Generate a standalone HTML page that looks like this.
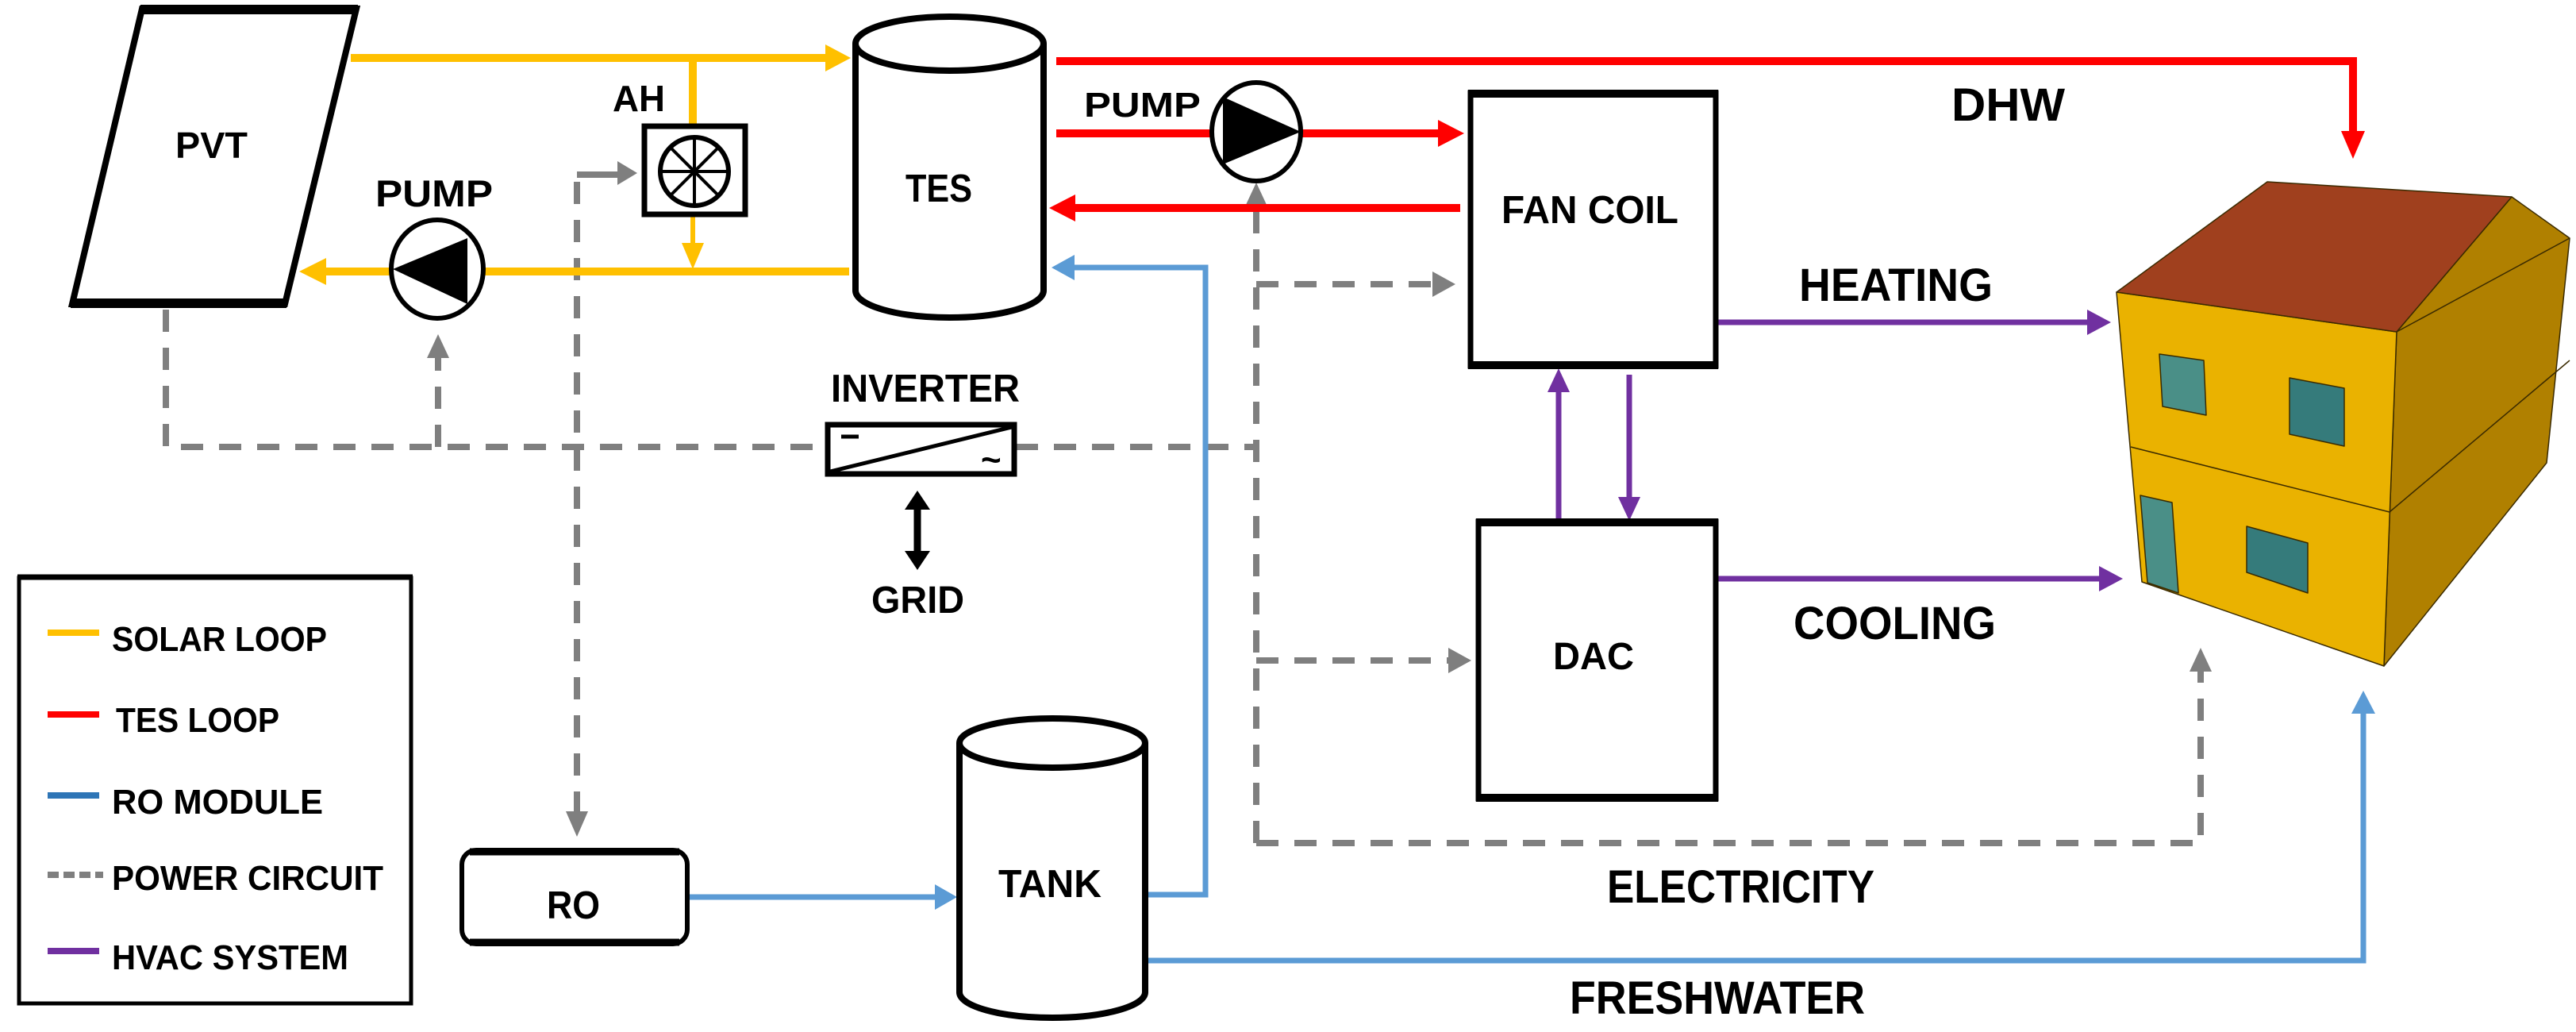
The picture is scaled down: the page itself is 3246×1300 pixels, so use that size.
<!DOCTYPE html>
<html><head><meta charset="utf-8"><style>html,body{margin:0;padding:0;background:#fff}svg{display:block}text{font-family:"Liberation Sans",sans-serif;font-weight:bold;fill:#000}</style></head>
<body>
<svg width="3246" height="1300" viewBox="0 0 3246 1300" xmlns="http://www.w3.org/2000/svg">

<!-- grey power dashes -->
<g stroke="#7F7F7F" stroke-width="8" fill="none" stroke-dasharray="28,20">
<path d="M209,390 V563 H1040"/>
<path d="M1280,563 H1583"/>
<path d="M552,563 V450"/>
<path d="M727,1025 V226"/>
<path d="M727,220 H782" stroke-dasharray="none"/>
<path d="M1583,1062 V258"/>
<path d="M1583,358 H1805"/>
<path d="M1583,832 H1825"/>
<path d="M1583,1062 H2773 V845"/>
</g>
<g fill="#7F7F7F">
<polygon points="552,421 538,451 566,451"/>
<polygon points="803,218 778,203 778,233"/>
<polygon points="1583,230 1569,260 1597,260"/>
<polygon points="1834,358 1805,342 1805,374"/>
<polygon points="1854,832 1825,816 1825,848"/>
<polygon points="2773,816 2759,846 2787,846"/>
<polygon points="727,1054 713,1022 741,1022"/>
</g>

<!-- yellow solar loop -->
<g stroke="#FFC000" stroke-width="10" fill="none">
<path d="M442,73 H1042"/>
<path d="M873,73 V159"/>
<path d="M873,270 V310" stroke-width="6"/>
<path d="M1070,342 H408"/>
</g>
<g fill="#FFC000">
<polygon points="1072,73 1040,56 1040,90"/>
<polygon points="873,339 859,306 887,306"/>
<polygon points="377,342 411,325 411,359"/>
</g>

<!-- red TES loop -->
<g stroke="#FF0000" stroke-width="10" fill="none">
<path d="M1331,77 H2965 V168"/>
<path d="M1331,168 H1815"/>
<path d="M1840,262 H1352"/>
</g>
<g fill="#FF0000">
<polygon points="2965,200 2950,165 2980,165"/>
<polygon points="1845,168 1812,151 1812,185"/>
<polygon points="1322,262 1355,245 1355,279"/>
</g>

<!-- blue -->
<g stroke="#5B9BD5" stroke-width="7" fill="none">
<path d="M868,1130 H1180"/>
<path d="M1443,1127 H1519 V337 H1352"/>
<path d="M1443,1210 H2978 V897"/>
</g>
<g fill="#5B9BD5">
<polygon points="1206,1130 1178,1114 1178,1146"/>
<polygon points="1325,337 1354,321 1354,353"/>
<polygon points="2978,870 2963,899 2993,899"/>
</g>

<!-- purple -->
<g stroke="#7030A0" stroke-width="7" fill="none">
<path d="M1964,654 V492"/>
<path d="M2053,472 V627"/>
<path d="M2165,406 H2630"/>
<path d="M2165,729 H2645"/>
</g>
<g fill="#7030A0">
<polygon points="1964,464 1950,494 1978,494"/>
<polygon points="2053,656 2039,626 2067,626"/>
<polygon points="2660,406 2630,390 2630,422"/>
<polygon points="2675,729 2645,713 2645,745"/>
</g>

<!-- PVT -->
<polygon points="179,11 449,11 359,383 91,383" fill="#fff" stroke="#000" stroke-width="8"/>
<line x1="177" y1="12" x2="451" y2="12" stroke="#000" stroke-width="12"/>
<line x1="89" y1="382" x2="361" y2="382" stroke="#000" stroke-width="12"/>

<!-- Pump 1 -->
<ellipse cx="551" cy="339" rx="58" ry="62" fill="#fff" stroke="#000" stroke-width="6"/>
<polygon points="495,339 589,300 589,383" fill="#000"/>

<!-- AH -->
<rect x="812" y="159" width="127" height="111" fill="#fff" stroke="#000" stroke-width="7"/>
<circle cx="875" cy="216" r="43" fill="none" stroke="#000" stroke-width="6"/>
<g stroke="#000" stroke-width="4">
<line x1="832" y1="216" x2="918" y2="216"/>
<line x1="875" y1="173" x2="875" y2="259"/>
<line x1="845" y1="186" x2="905" y2="246"/>
<line x1="905" y1="186" x2="845" y2="246"/>
</g>

<!-- TES cylinder -->
<path d="M1078,55 V366 A118.5,34 0 0 0 1315,366 V55" fill="#fff" stroke="#000" stroke-width="8"/>
<ellipse cx="1196.5" cy="55" rx="118.5" ry="34" fill="#fff" stroke="#000" stroke-width="8"/>

<!-- Pump 2 -->
<ellipse cx="1583" cy="166" rx="56" ry="62" fill="#fff" stroke="#000" stroke-width="6"/>
<polygon points="1639,166 1541,122 1541,207" fill="#000"/>

<!-- Fan coil -->
<rect x="1853" y="117" width="309" height="344" fill="#fff" stroke="#000" stroke-width="7"/>
<line x1="1850" y1="118" x2="2165" y2="118" stroke="#000" stroke-width="10"/>
<line x1="1850" y1="460" x2="2165" y2="460" stroke="#000" stroke-width="10"/>

<!-- DAC -->
<rect x="1863" y="657" width="299" height="349" fill="#fff" stroke="#000" stroke-width="7"/>
<line x1="1860" y1="658" x2="2165" y2="658" stroke="#000" stroke-width="10"/>
<line x1="1860" y1="1005" x2="2165" y2="1005" stroke="#000" stroke-width="10"/>

<!-- Inverter -->
<rect x="1043" y="535" width="235" height="62" fill="#fff" stroke="#000" stroke-width="7"/>
<line x1="1046" y1="594" x2="1275" y2="538" stroke="#000" stroke-width="5"/>
<line x1="1060" y1="550" x2="1082" y2="550" stroke="#000" stroke-width="5"/>
<text x="1236" y="594" font-size="44">~</text>

<!-- Grid arrow -->
<line x1="1156" y1="640" x2="1156" y2="698" stroke="#000" stroke-width="9"/>
<polygon points="1156,618 1140,642 1172,642" fill="#000"/>
<polygon points="1156,718 1140,694 1172,694" fill="#000"/>

<!-- RO -->
<rect x="582" y="1071" width="284" height="118" rx="18" fill="#fff" stroke="#000" stroke-width="6"/>
<line x1="592" y1="1073" x2="856" y2="1073" stroke="#000" stroke-width="9"/>
<line x1="592" y1="1187" x2="856" y2="1187" stroke="#000" stroke-width="9"/>

<!-- Tank -->
<path d="M1209,936 V1250 A117,32 0 0 0 1443,1250 V936" fill="#fff" stroke="#000" stroke-width="8"/>
<ellipse cx="1326" cy="936" rx="117" ry="31" fill="#fff" stroke="#000" stroke-width="8"/>

<!-- House -->
<g stroke="#3a2a00" stroke-width="1.5" stroke-linejoin="round">
<polygon points="3020,418 3165,248 3238,300 3209,583 3004,839" fill="#B08000"/>
<polygon points="2667,368 3020,418 3004,839 2699,733" fill="#EAB200"/>
<polygon points="2667,368 2857,229 3165,248 3020,418" fill="#A0401E"/>
<line x1="3020" y1="418" x2="3238" y2="300"/>
<line x1="2685" y1="563" x2="3011" y2="645"/>
<line x1="3011" y1="645" x2="3238" y2="454"/>
<polygon points="2721,446 2777,454 2780,523 2725,512" fill="#4A8F87"/>
<polygon points="2885,476 2954,489 2954,562 2885,547" fill="#357B7B"/>
<polygon points="2697,624 2737,633 2745,747 2706,734" fill="#4A8F87"/>
<polygon points="2831,663 2908,684 2908,747 2831,721" fill="#357B7B"/>
</g>

<!-- Legend -->
<rect x="24" y="728" width="494" height="536" fill="#fff" stroke="#000" stroke-width="5"/>
<line x1="22" y1="727" x2="520" y2="727" stroke="#000" stroke-width="7"/>
<line x1="60" y1="797" x2="125" y2="797" stroke="#FFC000" stroke-width="8"/>
<line x1="60" y1="900" x2="125" y2="900" stroke="#FF0000" stroke-width="8"/>
<line x1="60" y1="1002" x2="125" y2="1002" stroke="#2E75B6" stroke-width="8"/>
<line x1="60" y1="1102" x2="130" y2="1102" stroke="#7F7F7F" stroke-width="8" stroke-dasharray="14,6"/>
<line x1="60" y1="1198" x2="125" y2="1198" stroke="#7030A0" stroke-width="8"/>
<g font-size="44">
<text x="141" y="820" textLength="271" lengthAdjust="spacingAndGlyphs">SOLAR LOOP</text>
<text x="146" y="922" textLength="206" lengthAdjust="spacingAndGlyphs">TES LOOP</text>
<text x="141" y="1025" textLength="266" lengthAdjust="spacingAndGlyphs">RO MODULE</text>
<text x="141" y="1121" textLength="342" lengthAdjust="spacingAndGlyphs">POWER CIRCUIT</text>
<text x="141" y="1221" textLength="298" lengthAdjust="spacingAndGlyphs">HVAC SYSTEM</text>
</g>

<!-- Labels -->
<text x="221" y="199" font-size="46" textLength="91" lengthAdjust="spacingAndGlyphs">PVT</text>
<text x="772" y="140" font-size="46" textLength="66" lengthAdjust="spacingAndGlyphs">AH</text>
<text x="473" y="260" font-size="47" textLength="148" lengthAdjust="spacingAndGlyphs">PUMP</text>
<text x="1141" y="254" font-size="49" textLength="84" lengthAdjust="spacingAndGlyphs">TES</text>
<text x="1366" y="147" font-size="44" textLength="147" lengthAdjust="spacingAndGlyphs">PUMP</text>
<text x="1892" y="281" font-size="49" textLength="223" lengthAdjust="spacingAndGlyphs">FAN COIL</text>
<text x="1047" y="506" font-size="49" textLength="238" lengthAdjust="spacingAndGlyphs">INVERTER</text>
<text x="1098" y="772" font-size="48" textLength="117" lengthAdjust="spacingAndGlyphs">GRID</text>
<text x="689" y="1157" font-size="49" textLength="67" lengthAdjust="spacingAndGlyphs">RO</text>
<text x="1258" y="1130" font-size="49" textLength="130" lengthAdjust="spacingAndGlyphs">TANK</text>
<text x="1957" y="843" font-size="48" textLength="102" lengthAdjust="spacingAndGlyphs">DAC</text>
<text x="2267" y="379" font-size="58" textLength="244" lengthAdjust="spacingAndGlyphs">HEATING</text>
<text x="2260" y="805" font-size="58" textLength="255" lengthAdjust="spacingAndGlyphs">COOLING</text>
<text x="2459" y="152" font-size="58" textLength="143" lengthAdjust="spacingAndGlyphs">DHW</text>
<text x="2025" y="1137" font-size="58" textLength="337" lengthAdjust="spacingAndGlyphs">ELECTRICITY</text>
<text x="1978" y="1277" font-size="58" textLength="372" lengthAdjust="spacingAndGlyphs">FRESHWATER</text>
</svg>
</body></html>
